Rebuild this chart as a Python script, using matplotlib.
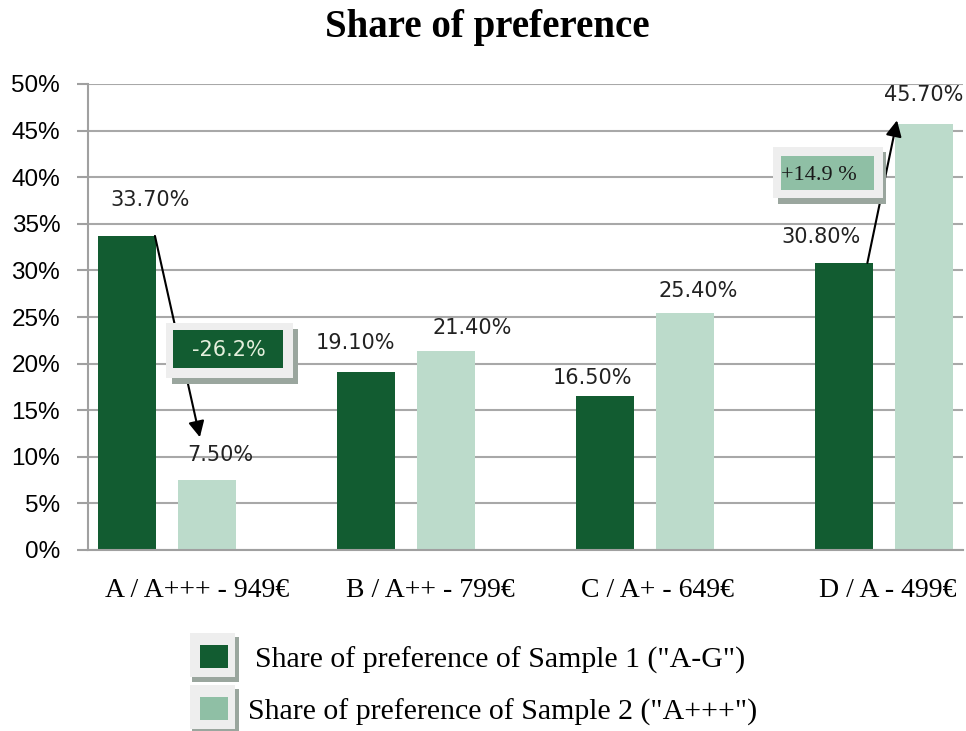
import matplotlib.pyplot as plt
from matplotlib.patches import Rectangle
from matplotlib.transforms import ScaledTranslation
import numpy as np

# -----------------------------
# Dados
# -----------------------------
categories = ["A / A+++ - 949€", "B / A++ - 799€", "C / A+ - 649€", "D / A - 499€"]
sample1 = [33.7, 19.1, 16.5, 30.8]
sample2 = [7.5, 21.4, 25.4, 45.7]
legend_labels = ['Share of preference of Sample 1 ("A-G")',
                 'Share of preference of Sample 2 ("A+++")']
change_labels = ["-26.2%", "+14.9 %"]

DARK = "#125c31"
LIGHT = "#bcdbcb"
MID = "#8fbfa5"
FRAME = "#eeeeee"
SHADOW = "#9aa69e"

W, H = 966, 731
fig = plt.figure(figsize=(W / 100, H / 100), dpi=100)
ax = fig.add_axes([88 / W, 1 - 550 / H, 875 / W, 466 / H])

x = np.arange(len(categories))
bw = 0.243
off = 0.167
ax.bar(x - off, sample1, bw, color=DARK, zorder=2)
ax.bar(x + off, sample2, bw, color=LIGHT, zorder=2)

ax.set_xlim(-0.33, 3.33)
ax.set_ylim(0, 50)
ax.set_yticks(np.arange(0, 51, 5))
ax.set_yticklabels([f"{v}%" for v in range(0, 51, 5)],
                   fontsize=17.5, family="Liberation Sans")
ax.set_xticks(x)
ax.set_xticklabels(categories, fontsize=20, family="Liberation Serif")
ax.tick_params(axis="x", length=0, pad=20)
ax.tick_params(axis="y", length=8, color="#a0a0a0", width=1.5, pad=12)
ax.yaxis.grid(True, color="#a8a8a8", lw=1.5, zorder=0)
ax.set_axisbelow(True)
for s in ["top", "right"]:
    ax.spines[s].set_visible(False)
for s in ["left", "bottom"]:
    ax.spines[s].set_color("#a0a0a0")
    ax.spines[s].set_linewidth(1.5)

# deslocar rótulos do eixo x para a direita (em pixels)
shift = [30, 24, 12, 4]
for lbl, s in zip(ax.get_xticklabels(), shift):
    lbl.set_transform(lbl.get_transform() + ScaledTranslation(s / 100, 0, fig.dpi_scale_trans))

# etiquetas de valores (deslocamento em pixels)
off1 = [(23, 36), (-11, 29), (-13, 18), (-23, 26)]
off2 = [(13, 25), (26, 23), (13, 22), (0, 29)]
for i in range(len(categories)):
    ax.annotate(f"{sample1[i]:.2f}%", (x[i] - off, sample1[i]),
                xytext=off1[i], textcoords="offset pixels",
                ha="center", va="center", fontsize=15, color="#222222")
    ax.annotate(f"{sample2[i]:.2f}%", (x[i] + off, sample2[i]),
                xytext=off2[i], textcoords="offset pixels",
                ha="center", va="center", fontsize=15, color="#222222")

# setas
ax.annotate("", xy=(0.138, 12.1), xytext=(-0.05, sample1[0]),
            arrowprops=dict(arrowstyle="-|>", color="black", lw=1.5,
                            mutation_scale=24, shrinkA=0, shrinkB=0), zorder=4)
ax.annotate("", xy=(3.054, 46.1), xytext=(2.93, sample1[3]),
            arrowprops=dict(arrowstyle="-|>", color="black", lw=1.5,
                            mutation_scale=24, shrinkA=0, shrinkB=0), zorder=4)


def px_box(x0, y0, x1, y1, color, z):
    # retângulo dado em pixels da figura
    fig.add_artist(Rectangle((x0 / W, 1 - y1 / H), (x1 - x0) / W, (y1 - y0) / H,
                             facecolor=color, edgecolor="none", zorder=z))


# caixa -26.2%
px_box(172, 329, 298, 384, SHADOW, 5)
px_box(166, 323, 293, 378, FRAME, 6)
px_box(173, 330, 283, 368, DARK, 7)
fig.text(229 / W, 1 - 350 / H, change_labels[0], ha="center", va="center",
         fontsize=15, color="#e4efdc", zorder=8)

# caixa +14.9 %
px_box(778, 152, 886, 204, SHADOW, 5)
px_box(773, 147, 883, 198, FRAME, 6)
px_box(781, 156, 874, 190, MID, 7)
fig.text(781 / W, 1 - 175 / H, change_labels[1], ha="left", va="center",
         fontsize=16, color="#1a1a1a", family="Liberation Serif", zorder=8)

# título
fig.text(487 / W, 1 - 27 / H, "Share of preference", ha="center", va="center",
         fontsize=28, fontweight="bold", family="Liberation Serif")

# legenda
for k, (yc, col, tx) in enumerate([(657, DARK, 255), (709, MID, 248)]):
    px_box(192, yc - 20, 239, yc + 25, SHADOW, 5)
    px_box(190, yc - 24, 235, yc + 20, FRAME, 6)
    px_box(200, yc - 12, 228, yc + 11, col, 7)
    fig.text(tx / W, 1 - (yc + 3) / H, legend_labels[k], ha="left", va="center",
             fontsize=21.5, family="Liberation Serif", zorder=8)

fig.savefig("out.png", dpi=100)
